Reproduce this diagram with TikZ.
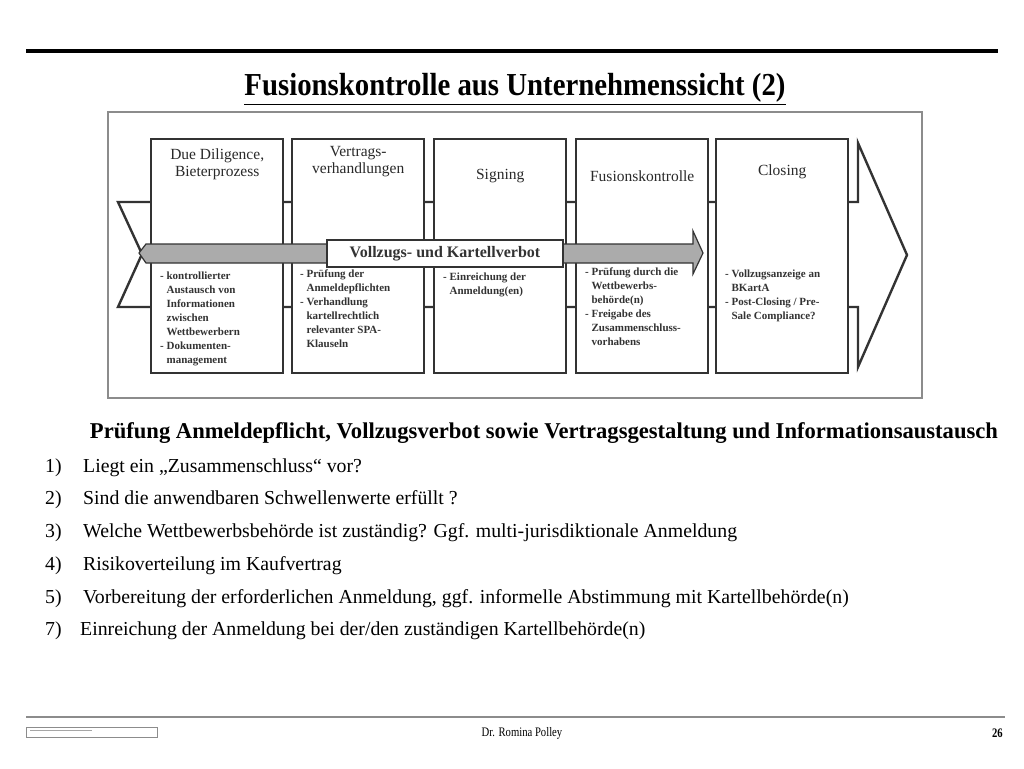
\documentclass[tikz,border=0pt]{standalone}
\usepackage{fontspec}
\setmainfont{Liberation Serif}
\usetikzlibrary{positioning}

\definecolor{boxline}{HTML}{333333}
\definecolor{bandgray}{HTML}{ABABAB}
\definecolor{framegray}{HTML}{8C8C8C}

\tikzset{
  phase/.style={draw=boxline, line width=2.4pt, fill=white, minimum width=132pt,
    minimum height=234pt, anchor=north west, inner sep=0pt},
  phasetitle/.style={font=\fontsize{15.5}{17}\selectfont, align=center, text=boxline!80!black},
  bullets/.style={font=\bfseries\fontsize{11}{14}\selectfont, align=left,
    text=boxline, anchor=north west, inner sep=0pt},
  listnum/.style={font=\fontsize{19.8}{22}\selectfont, anchor=base west, inner sep=0pt},
}
\newcommand{\ind}{\hphantom{-~}}

\begin{document}
\begin{tikzpicture}[x=1pt, y=-1pt]
  \useasboundingbox (0,0) rectangle (1024,768);

  % -- Header rule and title --
  \draw[line width=4.5pt] (26,51) -- (998,51);
  \node[font=\bfseries\fontsize{32}{34}\selectfont] (title) at (515,89)
    {\scalebox{0.9}[1]{\underline{Fusionskontrolle aus Unternehmenssicht (2)}}};

  % -- Frame of the chart --
  \draw[framegray, line width=1.2pt] (108,112) rectangle (922,398);

  % -- Big process arrow --
  \draw[boxline, line width=2.4pt, fill=white, line join=miter]
    (118,202) -- (858,202) -- (858,143) -- (907,255) -- (858,367) -- (858,307)
    -- (118,307) -- (142,254) -- cycle;

  % -- Phases --
  \node[phase] (dd) at (150,138) {};
  \node[phase] (vh) at (291,138) {};
  \node[phase] (sig) at (433,138) {};
  \node[phase] (fk) at (575,138) {};
  \node[phase] (cl) at (715,138) {};

  \node[phasetitle] (ddt) at ([yshift=-26pt]dd.north) {Due Diligence,\\Bieterprozess};
  \node[phasetitle] (vht) at ([yshift=-24pt]vh.north) {Vertrags-\\verhandlungen};
  \node[phasetitle] (sigt) at ([yshift=-38pt]sig.north) {Signing};
  \node[phasetitle] (fkt) at ([yshift=-38pt]fk.north) {Fusionskontrolle};
  \node[phasetitle] (clt) at ([yshift=-34pt]cl.north) {Closing};

  % -- Gray band: Vollzugsverbot --
  \draw[boxline, line width=1.2pt, fill=bandgray]
    (139,253) -- (146,244) -- (693,244) -- (693,231) -- (703,253) -- (693,274)
    -- (693,263) -- (146,263) -- cycle;
  \node[draw=boxline, line width=1.4pt, fill=white, minimum width=236pt,
    minimum height=27pt, inner sep=0pt, text=boxline,
    font=\bfseries\fontsize{16}{18}\selectfont] (verbot) at (445,253.5)
    {Vollzugs- und Kartellverbot};

  % -- Bullet texts --
  \node[bullets] (ddb) at (160,272) {- kontrollierter\\\ind Austausch von\\\ind Informationen\\\ind zwischen\\\ind Wettbewerbern\\- Dokumenten-\\\ind management};
  \node[bullets] (vhb) at (300,270) {- Prüfung der\\\ind Anmeldepflichten\\- Verhandlung\\\ind kartellrechtlich\\\ind relevanter SPA-\\\ind Klauseln};
  \node[bullets] (sigb) at (443,273) {- Einreichung der\\\ind Anmeldung(en)};
  \node[bullets] (fkb) at (585,268) {- Prüfung durch die\\\ind Wettbewerbs-\\\ind behörde(n)\\- Freigabe des\\\ind Zusammenschluss-\\\ind vorhabens};
  \node[bullets] (clb) at (725,270) {- Vollzugsanzeige an\\\ind BKartA\\- Post-Closing / Pre-\\\ind Sale Compliance?};

  % -- Heading and questions --
  \node[font=\bfseries\fontsize{22.6}{25}\selectfont] (head) at (544,433)
    {Prüfung Anmeldepflicht, Vollzugsverbot sowie Vertragsgestaltung und Informationsaustausch};

  \node[listnum] (n1) at (45,472) {1)};
  \node[listnum] (q1) at (83,472) {Liegt ein „Zusammenschluss“ vor?};
  \node[listnum] (n2) at (45,504) {2)};
  \node[listnum] (q2) at (83,504) {Sind die anwendbaren Schwellenwerte erfüllt ?};
  \node[listnum] (n3) at (45,537) {3)};
  \node[listnum] (q3) at (83,537) {Welche Wettbewerbsbehörde ist zuständig? Ggf. multi-jurisdiktionale Anmeldung};
  \node[listnum] (n4) at (45,570) {4)};
  \node[listnum] (q4) at (83,570) {Risikoverteilung im Kaufvertrag};
  \node[listnum] (n5) at (45,603) {5)};
  \node[listnum] (q5) at (83,603) {Vorbereitung der erforderlichen Anmeldung, ggf. informelle Abstimmung mit Kartellbehörde(n)};
  \node[listnum] (n7) at (45,635) {7)};
  \node[listnum] (q7) at (80,635) {Einreichung der Anmeldung bei der/den zuständigen Kartellbehörde(n)};

  % -- Footer --
  \draw[framegray, line width=1.5pt] (26,717) -- (1005,717);
  \draw[framegray, line width=0.8pt] (26,727) rectangle (157,737);
  \draw[gray!70, line width=0.8pt] (30,730) -- (92,730);
  \node[font=\fontsize{13}{15}\selectfont] (author) at (522,733)
    {\scalebox{0.82}[1]{Dr. Romina Polley}};
  \node[font=\bfseries\fontsize{13}{15}\selectfont, anchor=east, inner sep=0pt] (page) at (1003,733)
    {\scalebox{0.82}[1]{26}};

\end{tikzpicture}
\end{document}
